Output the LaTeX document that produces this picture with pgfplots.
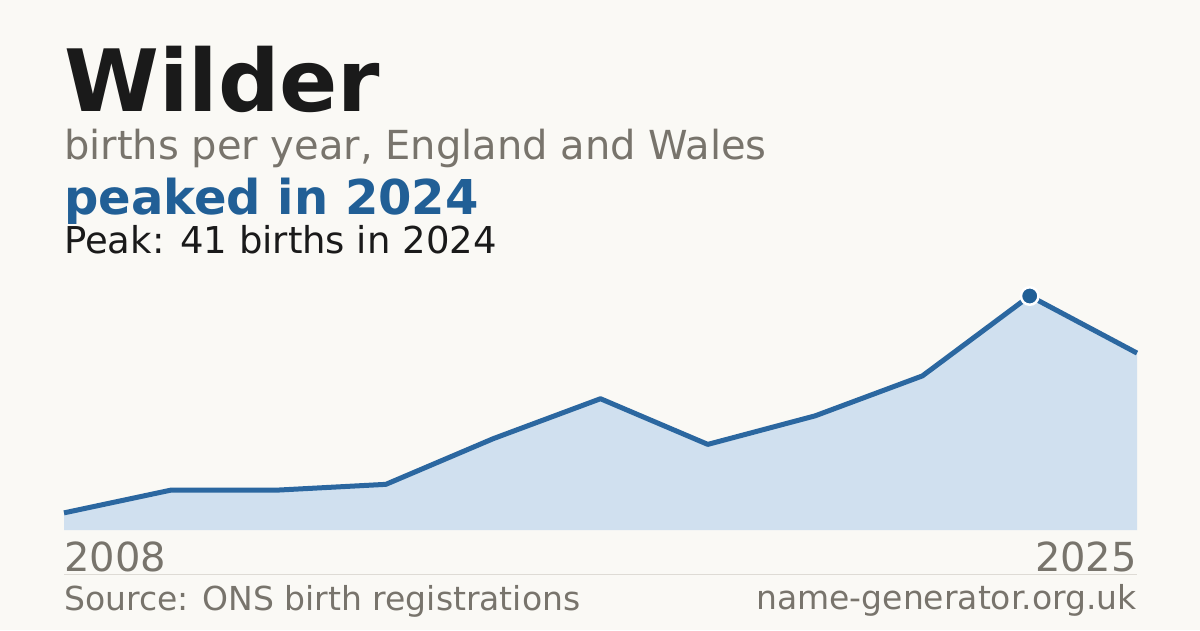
\documentclass[border=0pt]{standalone}
\usepackage{pgfplots}
\pgfplotsset{compat=1.18}
\usepackage{fontspec}
\setmainfont{DejaVu Sans}

\definecolor{bg}{HTML}{FAF9F5}
\definecolor{ink}{HTML}{1A1A1A}
\definecolor{muted}{HTML}{78746C}
\definecolor{accent}{HTML}{215F96}
\definecolor{linec}{HTML}{2B67A0}
\definecolor{areac}{HTML}{D0E0EF}
\definecolor{rule}{HTML}{DEDBD5}

\newcommand{\fs}[1]{\fontsize{#1pt}{#1pt}\selectfont}

\begin{document}
\begin{tikzpicture}[x=1pt,y=1pt]
  \fill[bg] (0,0) rectangle (1200,630);

  % heading block
  \node[anchor=base west,inner sep=0,text=ink] at (64,518) {\fs{86}\bfseries Wilder};
  \node[anchor=base west,inner sep=0,text=muted] at (64,470) {\fs{40}births per year, England and Wales};
  \node[anchor=base west,inner sep=0,text=accent] at (64,415) {\fs{48}\bfseries peaked in 2024};
  \node[anchor=base west,inner sep=0,text=ink] at (64,376) {\fs{37}Peak: 41 births in 2024};

  \begin{axis}[
      at={(64pt,100pt)}, anchor=south west,
      scale only axis,
      width=1073pt, height=234pt,
      xmin=0, xmax=10, ymin=0, ymax=41,
      hide axis, clip=false
    ]
    % births per year, one point per sample
    \addplot[fill=areac, draw=none] coordinates {
      (0,3) (1,7) (2,7) (3,8) (4,16) (5,23) (6,15) (7,20) (8,27) (9,41) (10,31)
    } \closedcycle;
    \addplot[linec, line width=5pt, line join=round] coordinates {
      (0,3) (1,7) (2,7) (3,8) (4,16) (5,23) (6,15) (7,20) (8,27) (9,41) (10,31)
    };
    % peak 2024
    \addplot[only marks, mark=*, mark size=8.75pt,
      mark options={fill=accent, draw=white, line width=2.5pt}] coordinates {(9,41)};
  \end{axis}

  % year labels and footer
  \node[anchor=base west,inner sep=0,text=muted] at (64,59) {\fs{40}2008};
  \node[anchor=base east,inner sep=0,text=muted] at (1137,59) {\fs{40}2025};
  \draw[rule, line width=1pt] (64,56) -- (1137,56);
  \node[anchor=base west,inner sep=0,text=muted] at (64,20) {\fs{33}Source: ONS birth registrations};
  \node[anchor=base east,inner sep=0,text=muted] at (1137,21) {\fs{33}name-generator.org.uk};
\end{tikzpicture}
\end{document}
